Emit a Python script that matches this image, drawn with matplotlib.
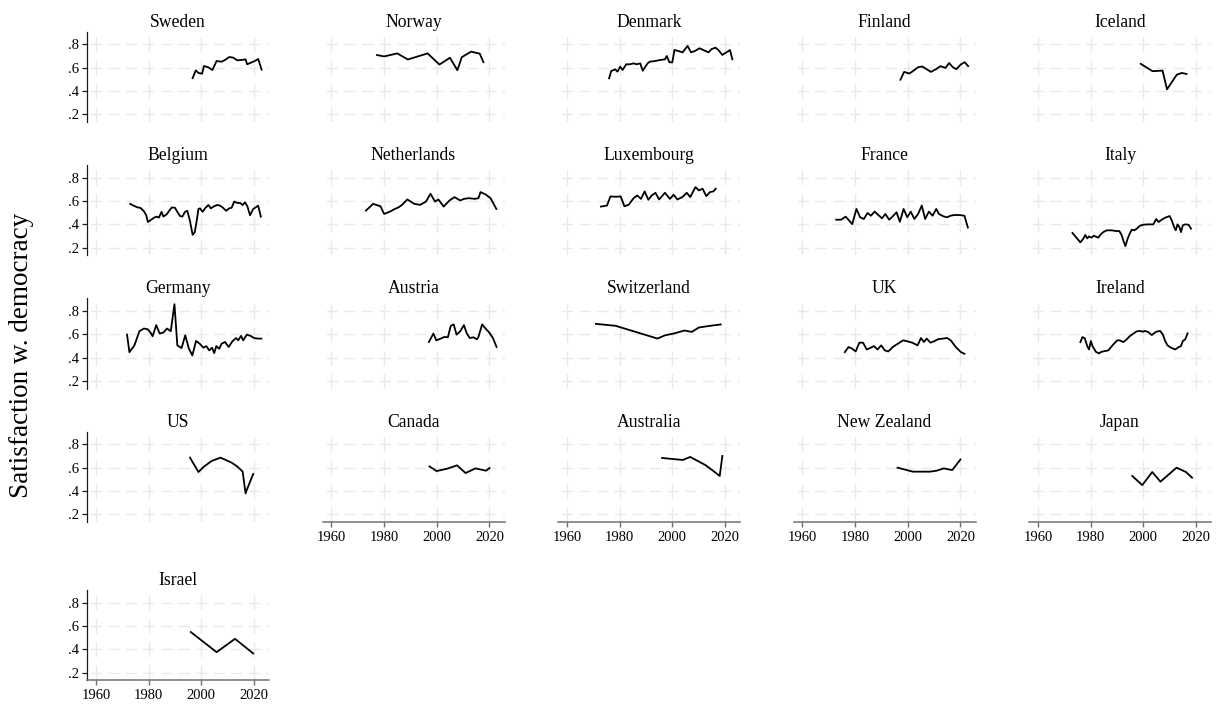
import matplotlib
matplotlib.use("Agg")
import matplotlib.pyplot as plt

plt.rcParams['font.family'] = ['Liberation Serif', 'DejaVu Serif']
plt.rcParams['lines.scale_dashes'] = False

# share satisfied with democracy, by survey wave (year, value)
sweden_years = [1996.7, 1997.9, 1999.0, 2000.3, 2001.0, 2002.7, 2004.2, 2005.8, 2007.7, 2009.0,
                2010.6, 2012.1, 2013.6, 2015.3, 2016.8, 2017.4, 2020.0, 2021.6, 2022.9]
sweden_vals = [.51, .577, .554, .549, .614, .603, .58, .657, .651, .666,
               .691, .686, .663, .666, .671, .629, .654, .674, .583]

norway_years = [1977.3, 1980.0, 1985.0, 1989.0, 1996.5, 2001.0, 2005.0, 2007.8, 2009.5, 2013.0, 2016.3, 2017.7]
norway_vals = [.708, .696, .722, .67, .722, .627, .685, .578, .69, .737, .72, .647]

denmark_years = [1976.0, 1976.8, 1978.3, 1979.2, 1980.2, 1981.1, 1982.5, 1984.0, 1985.3, 1986.5,
                 1987.8, 1988.8, 1990.6, 1991.4, 1993.5, 1995.4, 1997.2, 1997.9, 1998.9, 2000.0,
                 2000.8, 2002.3, 2003.9, 2005.8, 2007.1, 2008.6, 2010.3, 2011.8, 2013.7, 2015.0,
                 2016.4, 2017.5, 2019.0, 2020.4, 2021.9, 2022.8]
denmark_vals = [.509, .571, .586, .566, .609, .58, .629, .629, .637, .629,
                .637, .574, .637, .651, .657, .666, .671, .70, .646, .646,
                .751, .743, .731, .786, .731, .743, .766, .751, .731, .76,
                .771, .751, .709, .729, .751, .671]

finland_years = [1997.2, 1998.6, 2000.6, 2001.9, 2003.9, 2005.5, 2006.9, 2008.8, 2010.7, 2012.4,
                 2014.3, 2015.7, 2017.1, 2018.4, 2020.1, 2021.6, 2022.9]
finland_vals = [.497, .564, .55, .57, .604, .61, .59, .564, .587, .613,
                .598, .64, .604, .587, .627, .647, .613]

iceland_years = [1999.0, 2003.5, 2007.3, 2009.0, 2012.7, 2014.6, 2016.4]
iceland_vals = [.633, .57, .575, .415, .54, .555, .546]

belgium_years = [1973.0, 1974.3, 1975.8, 1976.8, 1978.1, 1979.1, 1979.7, 1980.8, 1982.1, 1983.1,
                 1983.9, 1984.9, 1985.6, 1986.9, 1987.8, 1988.8, 1990.0, 1990.9, 1991.9, 1992.8,
                 1993.8, 1994.7, 1995.7, 1996.7, 1997.5, 1998.3, 1998.9, 1999.5, 2000.5, 2001.4,
                 2002.7, 2003.6, 2004.8, 2006.1, 2007.1, 2008.1, 2009.4, 2010.6, 2011.5, 2012.5,
                 2013.7, 2014.7, 2015.7, 2016.6, 2017.5, 2018.5, 2019.7, 2021.6, 2022.6]
belgium_vals = [.575, .56, .545, .542, .516, .478, .42, .437, .458, .466,
                .458, .507, .466, .487, .516, .545, .542, .507, .472, .466,
                .507, .516, .428, .311, .332, .437, .531, .537, .507, .537,
                .566, .537, .554, .566, .56, .545, .516, .537, .542, .595,
                .583, .583, .566, .589, .554, .478, .531, .56, .466]

netherlands_years = [1973.1, 1975.8, 1978.6, 1980.0, 1982.2, 1984.1, 1985.5, 1986.8, 1988.8, 1991.5,
                     1993.7, 1995.9, 1997.6, 1999.3, 2000.6, 2002.6, 2004.8, 2006.7, 2008.9, 2010.3,
                     2012.2, 2014.4, 2015.8, 2016.6, 2018.5, 2020.4, 2022.6]
netherlands_vals = [.518, .575, .555, .489, .509, .532, .546, .567, .613, .575,
                    .567, .595, .662, .595, .613, .552, .604, .633, .604, .618,
                    .624, .618, .624, .676, .656, .624, .532]

luxembourg_years = [1972.9, 1975.2, 1976.5, 1978.5, 1980.4, 1981.8, 1983.4, 1985.3, 1986.7, 1988.1,
                    1989.5, 1990.9, 1992.2, 1993.6, 1995.0, 1997.2, 1999.1, 2000.5, 2001.9, 2003.8,
                    2005.5, 2006.8, 2008.8, 2010.1, 2011.5, 2012.9, 2014.3, 2015.6, 2016.5]
luxembourg_vals = [.552, .561, .639, .636, .639, .555, .567, .624, .647, .618,
                   .682, .61, .647, .67, .613, .67, .618, .653, .613, .633,
                   .67, .633, .719, .69, .705, .641, .676, .682, .705]

france_years = [1972.8, 1974.7, 1976.4, 1977.8, 1978.9, 1980.5, 1981.9, 1983.3, 1984.7, 1986.0,
                1987.4, 1988.8, 1990.2, 1991.5, 1992.9, 1994.3, 1995.7, 1997.0, 1998.4, 1999.8,
                2001.1, 2002.5, 2003.9, 2005.3, 2006.6, 2008.0, 2009.4, 2010.8, 2011.8, 2013.5,
                2014.9, 2016.2, 2017.6, 2019.5, 2021.5, 2022.8]
france_vals = [.44, .44, .466, .431, .402, .532, .46, .446, .497, .474,
               .509, .48, .452, .489, .44, .469, .503, .422, .532, .46,
               .509, .446, .489, .561, .446, .509, .474, .532, .489, .469,
               .46, .474, .48, .48, .474, .373]

italy_years = [1973.1, 1974.6, 1976.1, 1977.2, 1978.0, 1978.7, 1979.4, 1980.3, 1981.2, 1982.9,
               1983.8, 1984.8, 1986.1, 1988.0, 1989.6, 1990.9, 1991.8, 1992.4, 1993.2, 1994.0,
               1994.7, 1995.6, 1996.5, 1997.5, 1998.8, 2000.0, 2001.9, 2003.8, 2004.9, 2005.8,
               2007.0, 2008.3, 2010.0, 2010.8, 2011.7, 2012.3, 2013.0, 2013.7, 2014.3, 2015.0,
               2015.9, 2017.2, 2018.1]
italy_vals = [.326, .286, .246, .277, .309, .28, .297, .286, .303, .286,
              .314, .334, .349, .349, .343, .343, .306, .263, .214, .274,
              .314, .354, .349, .363, .389, .397, .40, .40, .446, .42,
              .44, .457, .471, .434, .377, .349, .40, .377, .334, .391,
              .40, .397, .363]

germany_years = [1971.8, 1972.7, 1974.6, 1976.5, 1978.2, 1979.6, 1980.7, 1981.5, 1982.9, 1984.2,
                 1985.6, 1987.0, 1988.4, 1989.8, 1990.9, 1992.5, 1993.9, 1995.3, 1996.6, 1998.0,
                 1999.4, 2000.8, 2001.9, 2003.0, 2004.1, 2004.9, 2005.7, 2006.8, 2007.7, 2009.0,
                 2010.4, 2011.8, 2013.2, 2014.0, 2015.1, 2015.9, 2017.3, 2018.7, 2020.0, 2021.4,
                 2022.8]
germany_vals = [.598, .448, .506, .627, .65, .644, .616, .584, .679, .607,
                .616, .65, .627, .858, .506, .483, .592, .477, .42, .544,
                .52, .486, .50, .463, .486, .44, .50, .477, .52, .535,
                .492, .541, .569, .549, .587, .549, .598, .587, .569, .564,
                .564]

austria_years = [1997.0, 1998.7, 1999.8, 2001.5, 2002.8, 2004.2, 2005.3, 2006.4, 2007.5, 2008.9,
                 2010.3, 2011.4, 2012.5, 2013.9, 2015.2, 2015.8, 2017.2, 2018.5, 2019.9, 2021.3,
                 2022.7]
austria_vals = [.535, .607, .549, .564, .578, .575, .673, .685, .598, .627,
                .679, .607, .569, .575, .558, .578, .685, .65, .616, .569,
                .492]

switzerland_years = [1971.0, 1978.5, 1994.4, 1997.2, 2000.5, 2004.6, 2007.4, 2010.1, 2014.3, 2018.4]
switzerland_vals = [.69, .673, .564, .592, .607, .633, .621, .659, .673, .685]

uk_years = [1976.1, 1977.5, 1978.9, 1980.2, 1981.6, 1983.0, 1984.4, 1985.7, 1987.1, 1988.5,
            1989.9, 1991.3, 1992.6, 1994.3, 1996.2, 1998.2, 1999.8, 2001.7, 2003.7, 2005.0,
            2006.1, 2007.2, 2008.6, 2010.0, 2011.4, 2013.3, 2014.9, 2016.3, 2018.2, 2020.2,
            2021.5]
uk_vals = [.448, .492, .477, .454, .529, .529, .471, .483, .50, .471,
           .506, .463, .454, .492, .52, .549, .541, .529, .506, .569,
           .535, .564, .529, .541, .558, .564, .569, .549, .492, .448,
           .434]

ireland_years = [1976.1, 1976.9, 1977.8, 1978.7, 1979.4, 1980.1, 1980.7, 1982.0, 1983.1, 1984.1,
                 1985.4, 1986.7, 1988.3, 1990.1, 1991.1, 1992.4, 1993.7, 1994.9, 1996.2, 1997.5,
                 1998.8, 1999.8, 2000.7, 2001.9, 2003.2, 2004.9, 2006.4, 2007.4, 2008.3, 2009.2,
                 2010.5, 2012.1, 2013.4, 2014.3, 2015.0, 2015.9, 2016.8]
ireland_vals = [.534, .577, .566, .50, .471, .543, .50, .451, .437, .451,
                .457, .463, .506, .549, .549, .534, .557, .586, .606, .626,
                .629, .623, .629, .62, .594, .623, .629, .60, .543, .506,
                .486, .471, .491, .50, .543, .557, .609]

us_years = [1995.7, 1998.9, 2001.0, 2003.9, 2007.3, 2011.5, 2013.7, 2015.7, 2016.8, 2017.5, 2019.7]
us_vals = [.686, .563, .609, .657, .686, .643, .609, .566, .38, .423, .546]

canada_years = [1997.2, 1999.9, 2003.9, 2007.7, 2010.9, 2014.7, 2018.7, 2020.0]
canada_vals = [.611, .571, .591, .62, .554, .594, .574, .597]

australia_years = [1996.1, 2001.1, 2004.0, 2006.8, 2009.6, 2012.5, 2015.4, 2018.0, 2019.0]
australia_vals = [.683, .672, .666, .692, .658, .623, .575, .529, .70]

new_zealand_years = [1996.1, 1999.0, 2001.9, 2005.3, 2008.4, 2010.9, 2013.7, 2015.3, 2016.9, 2020.0]
new_zealand_vals = [.60, .583, .566, .566, .566, .574, .594, .586, .58, .671]

japan_years = [1995.8, 1999.6, 2003.4, 2006.5, 2012.6, 2016.2, 2018.5]
japan_vals = [.529, .451, .563, .48, .60, .563, .514]

israel_years = [1996.0, 2005.8, 2012.8, 2019.7]
israel_vals = [.549, .377, .491, .366]

countries = ["Sweden", "Norway", "Denmark", "Finland", "Iceland",
             "Belgium", "Netherlands", "Luxembourg", "France", "Italy",
             "Germany", "Austria", "Switzerland", "UK", "Ireland",
             "US", "Canada", "Australia", "New Zealand", "Japan",
             "Israel"]
series = {
    "Sweden": (sweden_years, sweden_vals),
    "Norway": (norway_years, norway_vals),
    "Denmark": (denmark_years, denmark_vals),
    "Finland": (finland_years, finland_vals),
    "Iceland": (iceland_years, iceland_vals),
    "Belgium": (belgium_years, belgium_vals),
    "Netherlands": (netherlands_years, netherlands_vals),
    "Luxembourg": (luxembourg_years, luxembourg_vals),
    "France": (france_years, france_vals),
    "Italy": (italy_years, italy_vals),
    "Germany": (germany_years, germany_vals),
    "Austria": (austria_years, austria_vals),
    "Switzerland": (switzerland_years, switzerland_vals),
    "UK": (uk_years, uk_vals),
    "Ireland": (ireland_years, ireland_vals),
    "US": (us_years, us_vals),
    "Canada": (canada_years, canada_vals),
    "Australia": (australia_years, australia_vals),
    "New Zealand": (new_zealand_years, new_zealand_vals),
    "Japan": (japan_years, japan_vals),
    "Israel": (israel_years, israel_vals),
}

x_ticks = [1960, 1980, 2000, 2020]
y_ticks = [.2, .4, .6, .8]
y_ticklabels = [".2", ".4", ".6", ".8"]

W, H = 1216, 705
fig = plt.figure(figsize=(W / 100, H / 100), dpi=100)

ncols = 5
row_top = [31.6, 164.9, 298.3, 431.6, 590.0]   # pixel top of each row of panels
ax_w, ax_h = 182, 90.4
grid_col = "#e9e9e9"

for i, name in enumerate(countries):
    r, c = divmod(i, ncols)
    left = (87 + 235.5 * c) / W
    bottom = 1 - (row_top[r] + ax_h) / H
    ax = fig.add_axes([left, bottom, ax_w / W, ax_h / H])
    yrs, vals = series[name]
    ax.plot(yrs, vals, color="black", lw=1.3, zorder=3)

    ax.set_xlim(1956.6, 2025.7)
    ax.set_ylim(0.1355, 0.9085)
    ax.set_xticks(x_ticks)
    ax.set_yticks(y_ticks)
    ax.set_yticklabels(y_ticklabels)
    ax.set_axisbelow(True)
    ax.xaxis.grid(True, color=grid_col, lw=1.0, linestyle=(0, (10.8, 6.05)))
    ax.yaxis.grid(True, color=grid_col, lw=1.0, linestyle=(10.1, (7.9, 4.75)))

    show_x = i + ncols >= len(countries)
    show_y = c == 0
    for s in ("top", "right"):
        ax.spines[s].set_visible(False)
    ax.spines["left"].set_visible(show_y)
    ax.spines["left"].set_color("#1a1a1a")
    ax.spines["left"].set_linewidth(0.9)
    ax.spines["bottom"].set_visible(show_x)
    ax.spines["bottom"].set_color("#707070")
    ax.spines["bottom"].set_linewidth(1.1)

    ax.tick_params(axis="y", left=show_y, labelleft=show_y, length=3.6, width=0.9,
                   color="#1a1a1a", pad=2, labelsize=10.5)
    ax.tick_params(axis="x", bottom=show_x, labelbottom=show_x, length=3.4, width=1.0,
                   color="#707070", pad=3, labelsize=10.5)

    ax.set_title(name, fontsize=12.7, pad=3.6)

fig.text(22 / W, 1 - 355 / H, "Satisfaction w. democracy", rotation=90,
         ha="center", va="center", fontsize=19.5)

fig.savefig("out.png", dpi=100, facecolor="white")
